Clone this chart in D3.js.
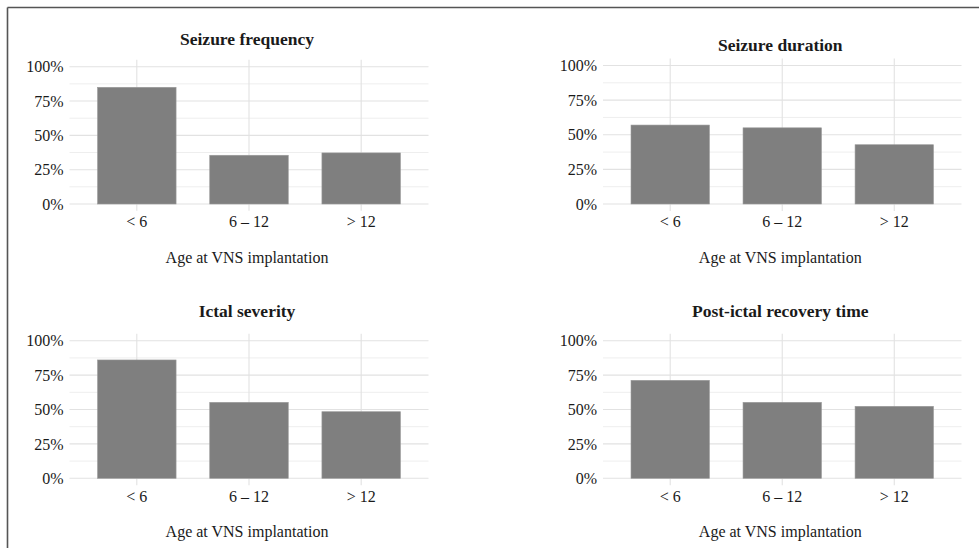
<!DOCTYPE html>
<html>
<head>
<meta charset="utf-8">
<script src="https://cdn.jsdelivr.net/npm/d3@7"></script>
<style>
  html, body { margin: 0; padding: 0; background: #fff; }
  svg { display: block; }
  text { font-family: "Liberation Serif", "Times New Roman", serif; fill: #1a1a1a; }
</style>
</head>
<body>
<svg id="chart" width="979" height="548"></svg>
<script>
const categories = ["< 6", "6 \u2013 12", "> 12"];
const titles = ["Seizure frequency", "Seizure duration", "Ictal severity", "Post-ictal recovery time"];
const seizureFrequency = [0.85, 0.355, 0.372];
const seizureDuration = [0.57, 0.55, 0.428];
const ictalSeverity = [0.86, 0.552, 0.484];
const postIctalRecovery = [0.712, 0.552, 0.523];
const majorTicks = [0, 0.25, 0.5, 0.75, 1];
const minorTicks = [0.125, 0.375, 0.625, 0.875];
const xAxisTitle = "Age at VNS implantation";

const seriesList = [seizureFrequency, seizureDuration, ictalSeverity, postIctalRecovery];

// panel layout: plot left/right, y of 100% and 0%, title baseline
const panels = [
  { L: 69.5, R: 428.5, top: 66.7, bottom: 204, titleY: 44.5 },
  { L: 603, R: 961.5, top: 65.5, bottom: 204, titleY: 50.5 },
  { L: 69.5, R: 428.5, top: 340.7, bottom: 478.3, titleY: 316.5 },
  { L: 603, R: 961.5, top: 340.7, bottom: 478.3, titleY: 316.5 }
];

const svg = d3.select("#chart");

// outer frame (top and left lines)
svg.append("line").attr("x1", 7.5).attr("x2", 979).attr("y1", 7.5).attr("y2", 7.5)
  .attr("stroke", "#555").attr("stroke-width", 1.6);
svg.append("line").attr("x1", 7.5).attr("x2", 7.5).attr("y1", 7.5).attr("y2", 548)
  .attr("stroke", "#555").attr("stroke-width", 1.6);

panels.forEach((p, i) => {
  const values = seriesList[i];
  const g = svg.append("g");
  const x = d3.scaleBand().domain(categories).range([p.L, p.R])
    .paddingInner(0.3).paddingOuter(0.25);
  const y = d3.scaleLinear().domain([0, 1]).range([p.bottom, p.top]);
  const pad = (p.bottom - p.top) * 0.05;
  const panelTop = p.top - pad, panelBottom = p.bottom + pad;

  // minor horizontal gridlines
  g.selectAll(".minor").data(minorTicks).join("line")
    .attr("x1", p.L).attr("x2", p.R)
    .attr("y1", d => y(d)).attr("y2", d => y(d))
    .attr("stroke", "#eeeeee").attr("stroke-width", 1);
  // major horizontal gridlines
  g.selectAll(".major").data(majorTicks).join("line")
    .attr("x1", p.L).attr("x2", p.R)
    .attr("y1", d => y(d)).attr("y2", d => y(d))
    .attr("stroke", "#e2e2e2").attr("stroke-width", 1.1);
  // vertical gridlines
  g.selectAll(".vgrid").data(categories).join("line")
    .attr("x1", d => x(d) + x.bandwidth() / 2).attr("x2", d => x(d) + x.bandwidth() / 2)
    .attr("y1", panelTop).attr("y2", panelBottom)
    .attr("stroke", "#e2e2e2").attr("stroke-width", 1.1);

  // bars
  g.selectAll(".bar").data(values).join("rect")
    .attr("x", (d, j) => x(categories[j]))
    .attr("width", x.bandwidth())
    .attr("y", d => y(d))
    .attr("height", d => y(0) - y(d))
    .attr("fill", "#7f7f7f")
    .attr("stroke", "#9a9a9a").attr("stroke-width", 0.6);

  // y axis labels
  const yAxis = d3.axisLeft(y).tickValues(majorTicks).tickFormat(d3.format(".0%"))
    .tickSize(0).tickPadding(6);
  const ya = g.append("g").attr("transform", `translate(${p.L},0)`).call(yAxis);
  ya.select(".domain").remove();
  ya.selectAll("text").style("font-family", '"Liberation Serif", serif')
    .style("font-size", "16px").attr("fill", "#1a1a1a");

  // x axis labels
  const xAxis = d3.axisBottom(x).tickSize(0).tickPadding(12);
  const xa = g.append("g").attr("transform", `translate(0,${p.bottom})`).call(xAxis);
  xa.select(".domain").remove();
  xa.selectAll("text").style("font-family", '"Liberation Serif", serif')
    .style("font-size", "16px").attr("fill", "#1a1a1a");

  // axis title
  g.append("text").attr("x", (p.L + p.R) / 2 - 2).attr("y", p.bottom + 58.5)
    .attr("text-anchor", "middle").style("font-size", "16px").text(xAxisTitle);

  // panel title
  g.append("text").attr("x", (p.L + p.R) / 2 - 2).attr("y", p.titleY)
    .attr("text-anchor", "middle").style("font-size", "17.5px")
    .style("font-weight", "bold").text(titles[i]);
});
</script>
</body>
</html>
